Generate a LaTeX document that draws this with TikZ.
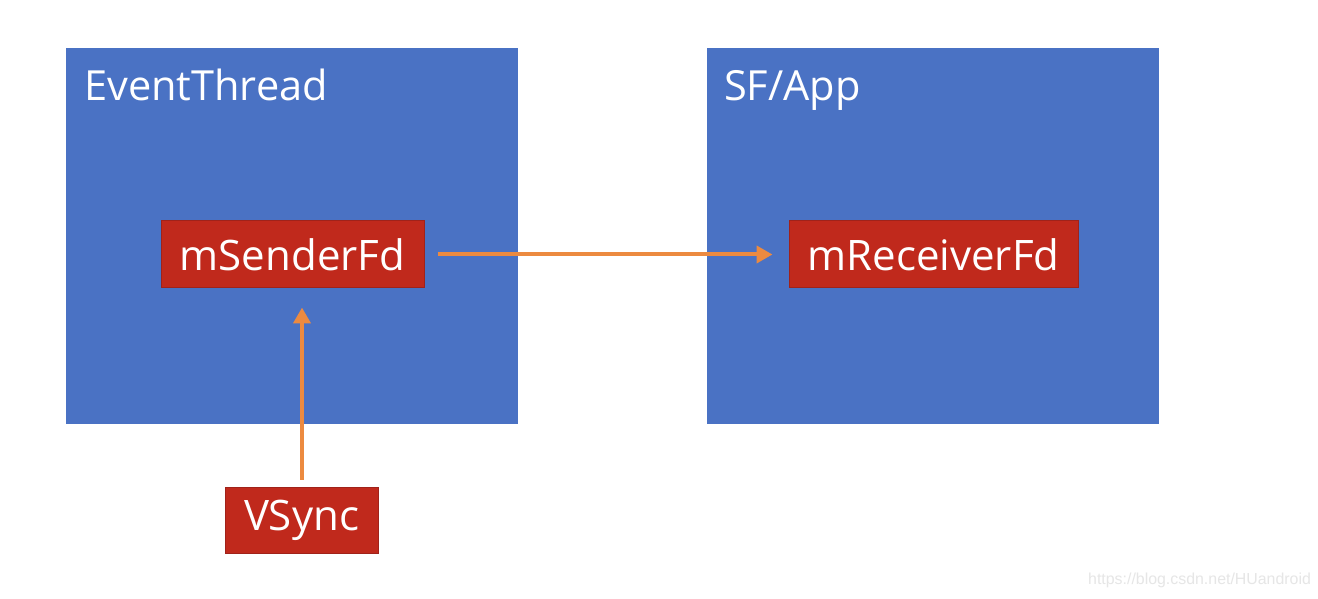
\documentclass[tikz,border=0pt]{standalone}
\usepackage{fontspec}
\setmainfont{Open Sans}
\newfontfamily\wmfont{Liberation Sans}
\usetikzlibrary{arrows.meta}
\definecolor{panelblue}{HTML}{4A72C4}
\definecolor{fdred}{HTML}{C0291C}
\definecolor{fdborder}{HTML}{A0221A}
\definecolor{arrorange}{HTML}{EC8A40}
\definecolor{wmgray}{HTML}{E6E6E6}
\tikzset{
  panel/.style={fill=panelblue, draw=none},
  paneltitle/.style={anchor=base west, text=white, font=\fontsize{41.5}{44}\selectfont, inner sep=0pt},
  fdbox/.style={fill=fdred, draw=fdborder, line width=1pt, text=white, font=\fontsize{42}{45}\selectfont, inner sep=0pt, minimum height=67pt},
  arr/.style={draw=arrorange, line width=4pt, -{Triangle[length=16pt,width=17pt]}},
}
\begin{document}
\begin{tikzpicture}[x=1pt,y=1pt]
\useasboundingbox (0,0) rectangle (1318,598);
\fill[white] (0,0) rectangle (1318,598);
% panels
\path[panel] (66,174) rectangle (518,550);
\path[panel] (707,174) rectangle (1159,550);
\node[paneltitle] (t1) at (84,497) {EventThread};
\node[paneltitle] (t2) at (724,497) {SF/App};
% fd boxes
\node[fdbox, minimum width=263pt] (send) at (292.5,343.5) {mSenderFd};
\node[fdbox, minimum width=289pt] (recv) at (933.5,343.5) {mReceiverFd};
\node[fdbox, minimum width=153pt, minimum height=66pt] (vsync) at (301.5,78) {VSync};
% arrows
\draw[arr, shorten <=13pt, shorten >=16pt] (send.east) -- (recv.west);
\draw[arr, shorten <=7pt, shorten >=19pt] ([xshift=0.5pt]vsync.north) -- ([xshift=0.5pt]vsync.north |- send.south);
% watermark
\node[anchor=base west, text=wmgray, font=\wmfont\fontsize{15.9}{18}\selectfont, inner sep=0pt] (wm) at (1088,14) {https://blog.csdn.net/HUandroid};
\end{tikzpicture}
\end{document}
